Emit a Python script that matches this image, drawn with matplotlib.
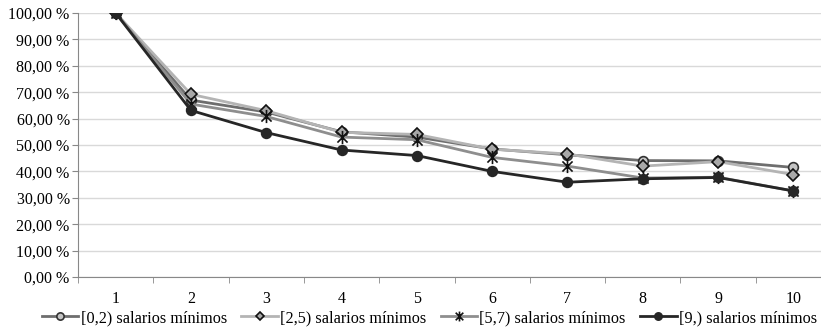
import numpy as np
import matplotlib
matplotlib.use('Agg')
import matplotlib.pyplot as plt
from matplotlib.path import Path
from matplotlib.ticker import FuncFormatter, FixedLocator

# ── data ──────────────────────────────────────────────────────────────────────
periods = [1, 2, 3, 4, 5, 6, 7, 8, 9, 10]
labels = ['[0,2) salarios mínimos', '[2,5) salarios mínimos',
          '[5,7) salarios mínimos', '[9,) salarios mínimos']
s_0_2 = [100.0, 67.0, 62.5, 55.0, 53.0, 48.5, 46.3, 44.1, 44.0, 41.5]
s_2_5 = [100.0, 69.2, 63.0, 54.8, 54.0, 48.4, 46.6, 42.0, 43.7, 38.8]
s_5_7 = [100.0, 65.5, 60.8, 53.0, 52.0, 45.3, 42.0, 37.5, 37.8, 32.6]
s_9   = [100.0, 63.1, 54.7, 48.1, 46.0, 40.0, 35.9, 37.2, 37.7, 32.6]

plt.rcParams.update({
    'font.family': 'Liberation Serif',
    'font.size': 11.5,
})

# Excel-style star: an X with a vertical stroke
star = Path([(-1, -1), (1, 1), (-1, 1), (1, -1), (0, -1.3), (0, 1.3)],
            [Path.MOVETO, Path.LINETO, Path.MOVETO, Path.LINETO,
             Path.MOVETO, Path.LINETO])

styles = [
    dict(color='#6e6e6e', marker='o', mfc='#c4c4c4', mec='#333333', ms=7),
    dict(color='#b4b4b4', marker='D', mfc='#a8a8a8', mec='#111111', ms=6),
    dict(color='#8e8e8e', marker=star, mfc='none', mec='#111111', ms=9.5),
    dict(color='#262626', marker='o', mfc='#262626', mec='#262626', ms=7),
]

fig = plt.figure(figsize=(8.21, 3.31), dpi=100)
ax = fig.add_axes([78 / 821, 54 / 331, 753 / 821, 264 / 331])

for vals, lbl, st in zip([s_0_2, s_2_5, s_5_7, s_9], labels, styles):
    ax.plot(periods, vals, lw=2.0, mew=1.2, label=lbl, **st)

ax.set_xlim(0.5, 10.5)
ax.set_ylim(0, 100)
ax.set_yticks(np.arange(0, 101, 10))
ax.yaxis.set_major_formatter(FuncFormatter(lambda v, p: f'{v:.2f}'.replace('.', ',') + ' %'))
ax.set_xticks(periods)
ax.set_xticklabels([str(p) for p in periods])
ax.xaxis.set_minor_locator(FixedLocator(np.arange(0.5, 11, 1)))
ax.tick_params(axis='x', which='major', length=0, pad=10)
ax.tick_params(axis='x', which='minor', length=4, color='#888888')
ax.tick_params(axis='y', length=4, color='#888888', pad=2)
ax.grid(axis='y', color='#d9d9d9', lw=1.0)
ax.set_axisbelow(True)
for side in ['top', 'right']:
    ax.spines[side].set_visible(False)
for side in ['left', 'bottom']:
    ax.spines[side].set_color('#888888')

fig.legend(loc='center', bbox_to_anchor=(0.523, 0.039), ncol=4,
           frameon=False, handlelength=2.26, handletextpad=0.13,
           columnspacing=0.88, borderaxespad=0.0, borderpad=0.0,
           markerscale=0.75, fontsize=11.7)

fig.savefig('out.png', dpi=100)
